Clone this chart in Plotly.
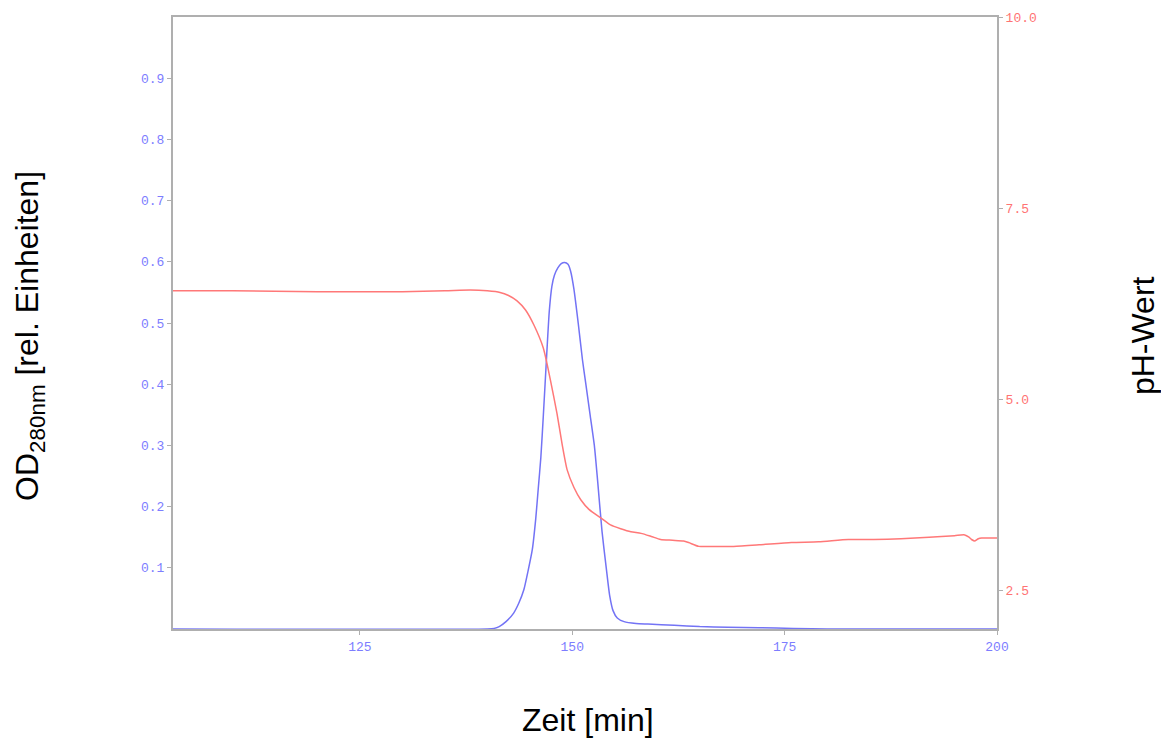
import plotly.graph_objects as go

# pH trace (right axis)
ph_time = [103, 110, 120, 125, 130, 135, 138, 140, 141.5, 142.5, 143.5, 144.5, 145.5,
           146.6, 147.4, 148.2, 148.8, 149.4, 150.2, 151.0, 152.0, 153.4, 154.5, 155.7,
           156.9, 158.1, 159.3, 160.4, 161.8, 163.1, 163.7, 164.9, 167, 169.0, 172,
           175.8, 179, 182.5, 185.5, 188.7, 192, 195, 196.2, 196.7, 197.0, 197.4,
           197.8, 198.2, 199, 200]
ph_value = [6.42, 6.42, 6.41, 6.41, 6.41, 6.42, 6.43, 6.42, 6.40, 6.36, 6.29, 6.17, 5.97,
            5.67, 5.27, 4.82, 4.42, 4.08, 3.85, 3.69, 3.56, 3.45, 3.36, 3.31,
            3.27, 3.25, 3.21, 3.17, 3.16, 3.15, 3.13, 3.08, 3.08, 3.08, 3.10,
            3.13, 3.14, 3.17, 3.17, 3.18, 3.20, 3.22, 3.23, 3.20, 3.17, 3.15,
            3.18, 3.19, 3.19, 3.19]

# OD280 trace (left axis)
od_time = [103, 140.0, 140.8, 141.4, 142.2, 143.1, 143.7, 144.3, 144.8, 145.3, 145.7,
           146.0, 146.3, 146.6, 147.0, 147.3, 147.6, 147.9, 148.3, 148.7, 149.1, 149.5,
           149.8, 150.2, 150.7, 151.2, 151.6, 152.1, 152.6, 153.0, 153.5, 154.0, 154.4,
           154.8, 155.3, 156.1, 157.5, 158.9, 162, 165, 168.3, 172, 176, 180, 200]
od_value = [0, 0, 0.001, 0.004, 0.012, 0.026, 0.042, 0.064, 0.095, 0.13, 0.18,
            0.23, 0.28, 0.35, 0.45, 0.52, 0.56, 0.578, 0.59, 0.597, 0.599, 0.596,
            0.585, 0.555, 0.50, 0.44, 0.40, 0.35, 0.30, 0.24, 0.16, 0.10, 0.055,
            0.03, 0.018, 0.012, 0.009, 0.008, 0.006, 0.004, 0.003, 0.002, 0.001, 0, 0]

x_ticks = [125, 150, 175, 200]
od_ticks = [0.1, 0.2, 0.3, 0.4, 0.5, 0.6, 0.7, 0.8, 0.9]
ph_ticks = [2.5, 5.0, 7.5, 10.0]

BLUE = "rgb(115,115,245)"
RED = "rgb(255,120,120)"
BLUE_TXT = "rgb(125,125,255)"
RED_TXT = "rgb(255,115,115)"
GRAY = "rgb(175,175,175)"
TICKFONT = "Liberation Mono, Courier New, monospace"
TITLEFONT = "Liberation Sans, Arial, Helvetica, sans-serif"

fig = go.Figure()
fig.add_trace(go.Scatter(x=ph_time, y=ph_value, mode="lines", yaxis="y2",
                         line=dict(color=RED, width=1.5, shape="spline", smoothing=0.6),
                         showlegend=False))
fig.add_trace(go.Scatter(x=od_time, y=od_value, mode="lines", yaxis="y",
                         line=dict(color=BLUE, width=1.5, shape="spline", smoothing=0.6),
                         showlegend=False))

fig.update_layout(
    width=1161, height=742,
    margin=dict(l=173, r=164, t=17, b=113),
    paper_bgcolor="white", plot_bgcolor="white",
    xaxis=dict(range=[103, 200], tickvals=x_ticks, showgrid=False, zeroline=False,
               showline=True, linecolor=GRAY, linewidth=2, mirror=True,
               ticks="outside", ticklen=4, tickcolor=GRAY,
               tickfont=dict(family=TICKFONT, size=13, color=BLUE_TXT)),
    yaxis=dict(range=[0, 1.0], tickvals=od_ticks, showgrid=False, zeroline=False,
               showline=True, linecolor=GRAY, linewidth=2,
               ticks="outside", ticklen=4, tickcolor=GRAY,
               tickfont=dict(family=TICKFONT, size=13, color=BLUE_TXT)),
    yaxis2=dict(range=[2, 10], tickvals=ph_ticks, tickformat=".1f", overlaying="y",
                side="right", showgrid=False, zeroline=False,
                showline=True, linecolor=GRAY, linewidth=2,
                ticks="outside", ticklen=4, tickcolor=GRAY,
                tickfont=dict(family=TICKFONT, size=13, color=RED_TXT)),
    annotations=[
        dict(text="OD<sub>280nm</sub> [rel. Einheiten]", xref="paper", yref="paper",
             x=-0.1735, y=0.479, xanchor="center", yanchor="middle", textangle=-90,
             showarrow=False, font=dict(family=TITLEFONT, size=32, color="black")),
        dict(text="pH-Wert", xref="paper", yref="paper",
             x=1.177, y=0.480, xanchor="center", yanchor="middle", textangle=-90,
             showarrow=False, font=dict(family=TITLEFONT, size=32, color="black")),
        dict(text="Zeit [min]", xref="paper", yref="paper",
             x=0.5036, y=-0.1487, xanchor="center", yanchor="middle",
             showarrow=False, font=dict(family=TITLEFONT, size=32, color="black")),
    ],
)

fig.write_html("out.html")
